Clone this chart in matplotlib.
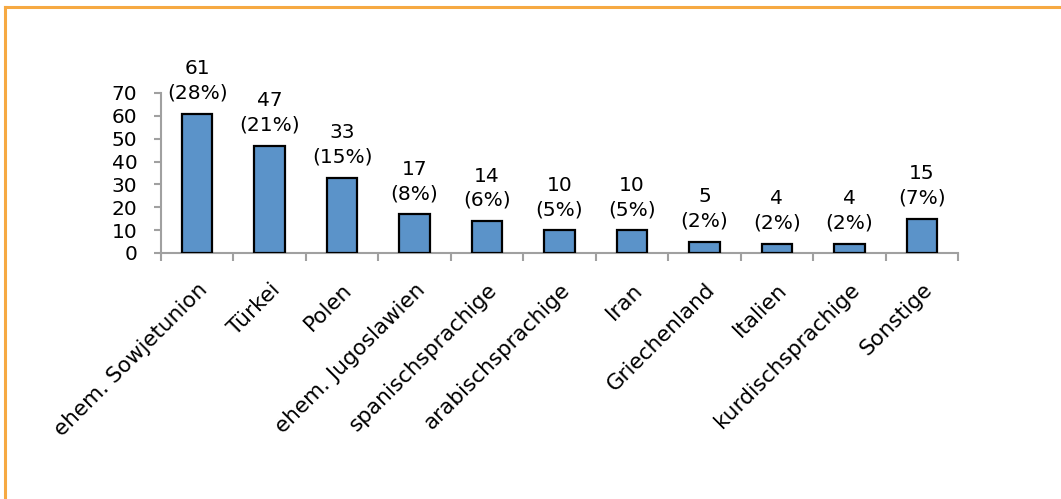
import matplotlib.pyplot as plt
from matplotlib.lines import Line2D
import numpy as np

# Daten
kategorien = ["ehem. Sowjetunion", "Türkei", "Polen", "ehem. Jugoslawien",
              "spanischsprachige", "arabischsprachige", "Iran", "Griechenland",
              "Italien", "kurdischsprachige", "Sonstige"]
anzahl = [61, 47, 33, 17, 14, 10, 10, 5, 4, 4, 15]
prozent = [28, 21, 15, 8, 6, 5, 5, 2, 2, 2, 7]

plt.rcParams['font.family'] = ['DejaVu Sans']
plt.rcParams['font.size'] = 14.5

fig = plt.figure(figsize=(10.61, 4.99), dpi=100)
ax = fig.add_axes([0.1517, 0.493, 0.7513, 0.3207])

x = np.arange(len(kategorien))
bars = ax.bar(x, anzahl, width=0.42, color='#5B93C9', edgecolor='black', linewidth=1.6, zorder=3)

# Beschriftung über den Balken
for b, n, p in zip(bars, anzahl, prozent):
    ax.annotate(f"{n}\n({p}%)", (b.get_x() + b.get_width() / 2, b.get_height()),
                xytext=(0, 8), textcoords='offset points', ha='center', va='bottom',
                linespacing=1.35)

ax.set_xlim(-0.5, len(kategorien) - 0.5)
ax.set_ylim(0, 70)
ax.set_yticks(range(0, 71, 10))

# Ticks an den Kategoriegrenzen, Labels in der Mitte
ax.set_xticks(np.arange(len(kategorien) + 1) - 0.5)
ax.set_xticklabels([])
ax.set_xticks(x, minor=True)
ax.set_xticklabels(kategorien, minor=True, rotation=45, ha='right', va='top',
                   rotation_mode='anchor', fontsize=15.5)
ax.tick_params(axis='x', which='minor', length=0, pad=19)
ax.tick_params(axis='x', which='major', length=6, width=1.5, color='#A0A0A0')
ax.tick_params(axis='y', length=5, width=1.5, color='#A0A0A0', pad=12)

for s in ['top', 'right']:
    ax.spines[s].set_visible(False)
for s in ['left', 'bottom']:
    ax.spines[s].set_color('#A0A0A0')
    ax.spines[s].set_linewidth(1.5)

# oranger Rahmen (oben und links)
fig.add_artist(Line2D([0.0045, 1.0], [0.986, 0.986], color='#F6A942', linewidth=2.2, transform=fig.transFigure))
fig.add_artist(Line2D([0.0045, 0.0045], [0.0, 0.986], color='#F6A942', linewidth=2.2, transform=fig.transFigure))

plt.savefig("out.png", dpi=100)
